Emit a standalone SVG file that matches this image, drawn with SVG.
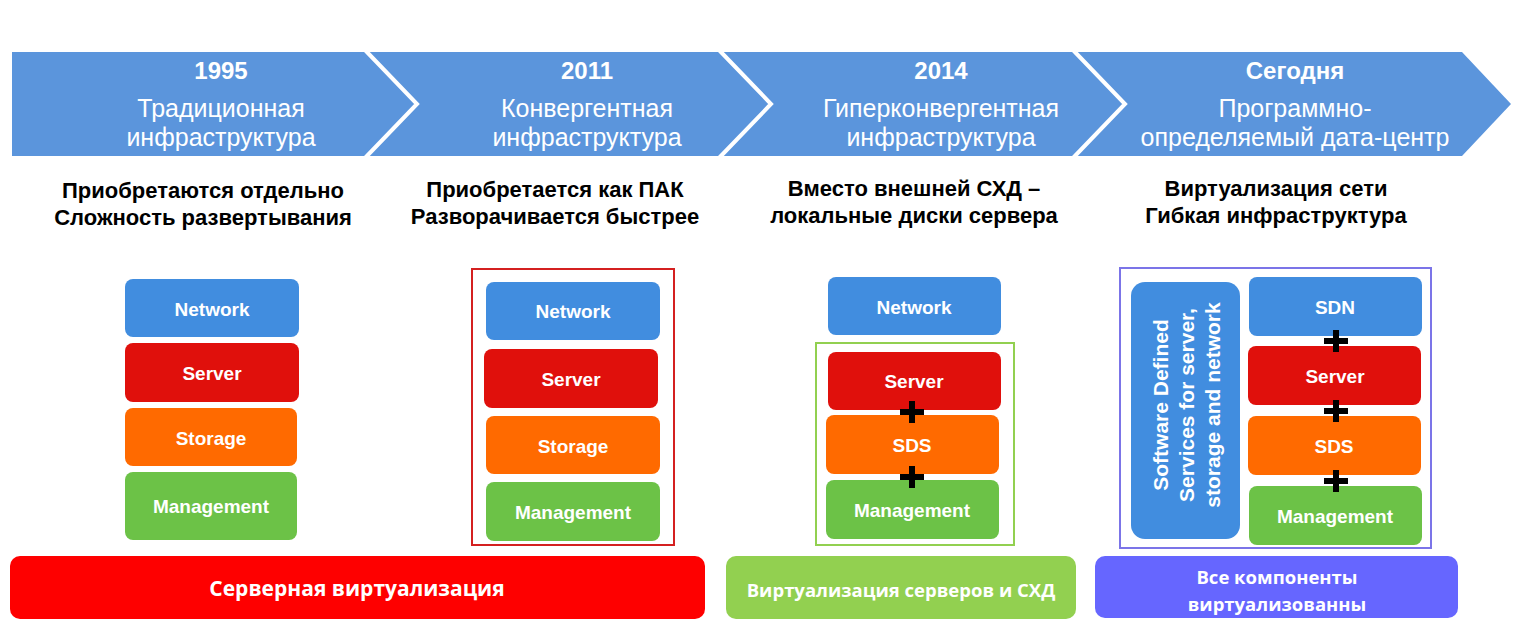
<svg xmlns="http://www.w3.org/2000/svg" width="1515" height="638" viewBox="0 0 1515 638">
<defs>
<style>
.band{fill:#5b95dc}
.sep{fill:none;stroke:#ffffff;stroke-width:4}
.yr{font-family:"Liberation Sans",Arial,sans-serif;font-weight:bold;font-size:24px;fill:#ffffff;text-anchor:middle}
.sub{font-family:"Liberation Sans",Arial,sans-serif;font-size:25px;fill:#ffffff;text-anchor:middle}
.hd{font-family:"Liberation Sans",Arial,sans-serif;font-weight:bold;font-size:22px;fill:#000000;text-anchor:middle}
.lbl{font-family:"Liberation Sans",Arial,sans-serif;font-weight:bold;font-size:19px;fill:#ffffff;text-anchor:middle;dominant-baseline:central}
.vt{font-family:"Liberation Sans",Arial,sans-serif;font-weight:bold;font-size:21px;fill:#ffffff;text-anchor:middle;dominant-baseline:central}
.bar{font-family:"Open Sans","Noto Sans",sans-serif;font-weight:bold;font-size:21px;fill:#ffffff;text-anchor:middle;dominant-baseline:central}
.bar2{font-family:"Open Sans","Noto Sans",sans-serif;font-weight:bold;font-size:18.5px;fill:#ffffff;text-anchor:middle;dominant-baseline:central}
.net{fill:#418ddf}
.srv{fill:#e0100c}
.sto{fill:#ff6a00}
.mgt{fill:#6cc247}
.plus{fill:#000000}
</style>
</defs>

<g id="timeline">
<polygon class="band" points="12,52 1462,52 1511,104 1462,156 12,156"/>
<polyline class="sep" points="365,50 417,104 365,158"/>
<polyline class="sep" points="719,50 771,104 719,158"/>
<polyline class="sep" points="1073,50 1125,104 1073,158"/>
</g>

<g id="era-1995">
<text class="yr" x="221" y="79">1995</text>
<text class="sub" x="221" y="117">Традиционная</text>
<text class="sub" x="221" y="146">инфраструктура</text>
</g>
<g id="era-2011">
<text class="yr" x="587" y="79">2011</text>
<text class="sub" x="587" y="117">Конвергентная</text>
<text class="sub" x="587" y="146">инфраструктура</text>
</g>
<g id="era-2014">
<text class="yr" x="941" y="79">2014</text>
<text class="sub" x="941" y="117">Гиперконвергентная</text>
<text class="sub" x="941" y="146">инфраструктура</text>
</g>
<g id="era-today">
<text class="yr" x="1295" y="79">Сегодня</text>
<text class="sub" x="1295" y="117">Программно-</text>
<text class="sub" x="1295" y="146">определяемый дата-центр</text>
</g>

<g id="heading-1">
<text class="hd" x="203" y="198">Приобретаются отдельно</text>
<text class="hd" x="203" y="225">Сложность развертывания</text>
</g>
<g id="heading-2">
<text class="hd" x="555" y="197">Приобретается как ПАК</text>
<text class="hd" x="555" y="224">Разворачивается быстрее</text>
</g>
<g id="heading-3">
<text class="hd" x="914" y="196">Вместо внешней СХД –</text>
<text class="hd" x="914" y="223">локальные диски сервера</text>
</g>
<g id="heading-4">
<text class="hd" x="1276" y="196">Виртуализация сети</text>
<text class="hd" x="1276" y="223">Гибкая инфраструктура</text>
</g>

<g id="stack-1">
<rect class="net" x="125" y="279" width="174" height="58" rx="8"/>
<text class="lbl" x="212" y="309">Network</text>
<rect class="srv" x="125" y="343" width="174" height="59" rx="8"/>
<text class="lbl" x="212" y="373">Server</text>
<rect class="sto" x="125" y="408" width="172" height="58" rx="8"/>
<text class="lbl" x="211" y="438">Storage</text>
<rect class="mgt" x="125" y="472" width="172" height="68" rx="8"/>
<text class="lbl" x="211" y="506">Management</text>
</g>

<g id="stack-2">
<rect x="472" y="269" width="202" height="276" fill="none" stroke="#d42020" stroke-width="2"/>
<rect class="net" x="486" y="282" width="174" height="58" rx="8"/>
<text class="lbl" x="573" y="311">Network</text>
<rect class="srv" x="484" y="349" width="174" height="59" rx="8"/>
<text class="lbl" x="571" y="379">Server</text>
<rect class="sto" x="486" y="416" width="174" height="58" rx="8"/>
<text class="lbl" x="573" y="446">Storage</text>
<rect class="mgt" x="486" y="482" width="174" height="59" rx="8"/>
<text class="lbl" x="573" y="512">Management</text>
</g>

<g id="stack-3">
<rect class="net" x="828" y="277" width="173" height="58" rx="8"/>
<text class="lbl" x="914" y="307">Network</text>
<rect x="816" y="343" width="198" height="202" fill="none" stroke="#92d050" stroke-width="2"/>
<rect class="srv" x="828" y="352" width="173" height="58" rx="8"/>
<text class="lbl" x="914" y="381">Server</text>
<rect class="sto" x="826" y="415" width="173" height="59" rx="8"/>
<text class="lbl" x="912" y="445">SDS</text>
<rect class="mgt" x="826" y="480" width="173" height="59" rx="8"/>
<text class="lbl" x="912" y="510">Management</text>
<g id="plus-3a"><rect class="plus" x="900" y="409" width="24" height="6"/><rect class="plus" x="909" y="401" width="6" height="22"/></g>
<g id="plus-3b"><rect class="plus" x="900" y="474" width="24" height="6"/><rect class="plus" x="909" y="466" width="6" height="22"/></g>
</g>

<g id="stack-4">
<rect x="1120" y="268" width="311" height="280" fill="none" stroke="#7b74e8" stroke-width="2"/>
<rect class="net" x="1131" y="282" width="109" height="257" rx="14"/>
<g transform="translate(1186,405) rotate(-90)">
<text class="vt" x="0" y="-26">Software Defined</text>
<text class="vt" x="0" y="0">Services for server,</text>
<text class="vt" x="0" y="26">storage and network</text>
</g>
<rect class="net" x="1249" y="277" width="173" height="59" rx="8"/>
<text class="lbl" x="1335" y="307">SDN</text>
<rect class="srv" x="1248" y="346" width="173" height="59" rx="8"/>
<text class="lbl" x="1335" y="376">Server</text>
<rect class="sto" x="1248" y="416" width="173" height="59" rx="8"/>
<text class="lbl" x="1334" y="446">SDS</text>
<rect class="mgt" x="1249" y="486" width="173" height="59" rx="8"/>
<text class="lbl" x="1335" y="516">Management</text>
<g id="plus-4a"><rect class="plus" x="1324" y="338" width="24" height="6"/><rect class="plus" x="1333" y="330" width="6" height="22"/></g>
<g id="plus-4b"><rect class="plus" x="1324" y="408" width="24" height="6"/><rect class="plus" x="1333" y="400" width="6" height="22"/></g>
<g id="plus-4c"><rect class="plus" x="1324" y="478" width="24" height="6"/><rect class="plus" x="1333" y="470" width="6" height="22"/></g>
</g>

<g id="bar-server-virt">
<rect x="10" y="556" width="695" height="63" rx="10" fill="#fe0000"/>
<text class="bar" x="357" y="588">Серверная виртуализация</text>
</g>
<g id="bar-server-storage-virt">
<rect x="726" y="556" width="350" height="63" rx="10" fill="#92d050"/>
<text class="bar2" x="901" y="589">Виртуализация серверов и СХД</text>
</g>
<g id="bar-all-virt">
<rect x="1095" y="556" width="363" height="62" rx="10" fill="#6666ff"/>
<text class="bar2" x="1277" y="576">Все компоненты</text>
<text class="bar2" x="1277" y="603">виртуализованны</text>
</g>

<g id="connectors"></g>
</svg>
